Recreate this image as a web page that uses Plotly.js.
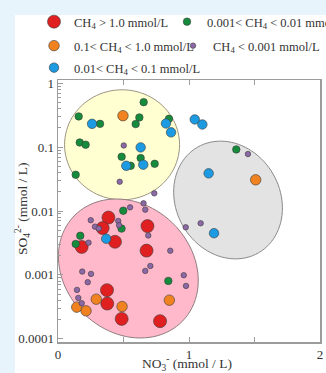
<!DOCTYPE html>
<html>
<head>
<meta charset="utf-8">
<script src="https://cdn.plot.ly/plotly-3.0.1.min.js"></script>
<style>
  html, body { margin: 0; padding: 0; background: #e8f4fb; }
  #chart { width: 326px; height: 373px; }
</style>
</head>
<body>
<div id="chart"></div>
<script>
// NO3- (mmol/L) and SO4 2- (mmol/L) for samples grouped by CH4 class
const redNO3 = [0.385, 0.341, 0.683, 0.435, 0.181, 0.676, 0.374, 0.376, 0.486, 0.779];
const redSO4 = [0.0079, 0.0054, 0.0058, 0.0033, 0.00274, 0.0024, 0.000577, 0.000356, 0.000205, 0.000189];

const orangeNO3 = [0.496, 1.509, 0.292, 0.143, 0.214, 0.489, 0.850];
const orangeSO4 = [0.31, 0.0308, 0.000417, 0.000313, 0.000274, 0.00032, 0.000402];

const blueNO3 = [0.260, 0.824, 0.863, 1.044, 1.102, 0.631, 0.521, 0.651, 1.150, 1.191, 0.368];
const blueSO4 = [0.231, 0.234, 0.170, 0.271, 0.226, 0.099, 0.051, 0.053, 0.0388, 0.00449, 0.00368];

const greenNO3 = [0.654, 0.158, 0.321, 0.621, 0.593, 0.847, 0.166, 0.211, 0.486, 0.631,
                  0.555, 0.738, 0.135, 1.361, 0.498, 0.485, 0.170, 0.135, 0.842];
const greenSO4 = [0.505, 0.302, 0.231, 0.291, 0.229, 0.277, 0.118, 0.109, 0.0706, 0.0673,
                  0.051, 0.0548, 0.0369, 0.092, 0.0101, 0.0053, 0.0041, 0.00305, 0.000806];

const purpleNO3 = [0.502, 0.471, 0.735, 1.450, 0.975, 1.089, 0.653, 0.666, 0.550, 0.250,
                   0.282, 0.311, 0.460, 0.466, 0.689, 0.233, 0.857, 0.705, 0.666, 0.185,
                   0.252, 0.227, 0.960, 0.977, 0.145, 0.155, 0.181];
const purpleSO4 = [0.106, 0.0287, 0.0189, 0.0778, 0.00556, 0.00643, 0.0132, 0.0105, 0.0114, 0.00718,
                   0.00569, 0.00533, 0.00698, 0.00598, 0.00414, 0.00319, 0.00239, 0.00138, 0.001155, 0.001127,
                   0.001037, 0.000769, 0.000989, 0.000673, 0.000583, 0.000437, 0.000361];

const seriesNames = [
  'CH<sub>4</sub> &gt; 1.0 mmol/L',
  '0.1&lt; CH<sub>4</sub> &lt; 1.0 mmol/L',
  '0.01&lt; CH<sub>4</sub> &lt; 0.1 mmol/L',
  '0.001&lt; CH<sub>4</sub> &lt; 0.01 mmol/L',
  'CH<sub>4</sub> &lt; 0.001 mmol/L'
];

const xTickVals = [0, 0.5, 1, 1.5, 2];
const xTickText = ['0', '', '1', '', '2'];
const yTickVals = [0.0001, 0.001, 0.01, 0.1, 1];
const yTickText = ['0.0001', '0.001', '0.01', '0.1', '1'];

// plot geometry
const W = 326, H = 373;
const M = { l: 58, r: 6, t: 80, b: 31, autoexpand: false };
const PW = W - M.l - M.r, PH = H - M.t - M.b;
const xRange = [0, 2];
const yRange = [-4.05, 0.05];
const toPaperY = py => (H - M.b - py) / PH;
const toPaperX = px => (px - M.l) / PW;

// minor ticks on the log axis (2..9 within each decade)
const minorVals = [];
for (let p = -4; p < 0; p++) for (let k = 2; k <= 9; k++) minorVals.push(k * Math.pow(10, p));

// grouping ellipses: centre in data units, semi-axes in pixels, tilt in degrees
const groups = [
  { cx: 0.489, cy: 0.1087, a: 55, b: 57.5, tilt: 0, fill: '#ffffd2', line: '#9c9482' },
  { cx: 0.537, cy: 0.00126, a: 75.5, b: 63.4, tilt: 46, fill: '#ffb9ca', line: '#8f7d80' },
  { cx: 1.298, cy: 0.01486, a: 61, b: 52, tilt: 30, fill: '#e3e3e3', line: '#8a8a8a' }
];

function ellipsePath(g) {
  const cx = (g.cx - xRange[0]) / (xRange[1] - xRange[0]) * PW;
  const cy = (Math.log10(g.cy) - yRange[0]) / (yRange[1] - yRange[0]) * PH;
  const th = g.tilt * Math.PI / 180;
  const ux = Math.sin(th), uy = -Math.cos(th);
  const vx = Math.cos(th), vy = Math.sin(th);
  let d = '';
  const n = 96;
  for (let i = 0; i <= n; i++) {
    const t = 2 * Math.PI * i / n;
    const px = cx + g.a * Math.cos(t) * ux + g.b * Math.sin(t) * vx;
    const py = cy + g.a * Math.cos(t) * uy + g.b * Math.sin(t) * vy;
    d += (i === 0 ? 'M ' : ' L ') + (px / PW).toFixed(5) + ' ' + (py / PH).toFixed(5);
  }
  return d + ' Z';
}

const shapes = [
  // white page panel
  { type: 'rect', xref: 'paper', yref: 'paper', layer: 'below',
    x0: toPaperX(15), x1: toPaperX(W + 10),
    y0: toPaperY(H + 10), y1: toPaperY(15),
    fillcolor: '#ffffff', line: { width: 0 } }
].concat(groups.map(g => ({
  type: 'path', xref: 'paper', yref: 'paper', layer: 'below',
  path: ellipsePath(g), fillcolor: g.fill, line: { color: g.line, width: 1 }
})));

const edge = { color: '#3a3a3a', width: 0.6 };
function series(x, y, name, color, size, legendId) {
  return {
    type: 'scatter', mode: 'markers', x: x, y: y, name: name, legend: legendId,
    marker: { color: color, size: size, line: edge }, cliponaxis: false
  };
}

const traces = [
  series(redNO3, redSO4, seriesNames[0], '#e02020', 13, 'legend'),
  series(greenNO3, greenSO4, seriesNames[3], '#148c3c', 7.5, 'legend2'),
  series(orangeNO3, orangeSO4, seriesNames[1], '#f08220', 10.5, 'legend3'),
  series(purpleNO3, purpleSO4, seriesNames[4], '#8c68a6', 5.5, 'legend4'),
  series(blueNO3, blueSO4, seriesNames[2], '#1c9be2', 9.5, 'legend5')
];

const serif = 'Liberation Serif, Times New Roman, serif';
const axisCommon = {
  showline: true, linecolor: '#9c9c9c', linewidth: 1.5,
  ticks: 'inside', ticklen: 5, tickwidth: 1, tickcolor: '#9c9c9c',
  showgrid: false, zeroline: false, fixedrange: true,
  tickfont: { family: serif, size: 13, color: '#333' }
};

// one legend box per key, laid out as a two-column grid
function legendKey(px, py) {
  return {
    orientation: 'v', x: toPaperX(px), xanchor: 'left', y: toPaperY(py), yanchor: 'middle',
    font: { family: serif, size: 12.5, color: '#333' },
    bgcolor: 'rgba(0,0,0,0)'
  };
}

const layout = {
  width: W, height: H,
  margin: M,
  paper_bgcolor: '#e8f4fb',
  plot_bgcolor: 'rgba(0,0,0,0)',
  font: { family: serif, color: '#333' },
  showlegend: true,
  legend: legendKey(34, 22),
  legend2: legendKey(167, 22),
  legend3: legendKey(34, 46),
  legend4: legendKey(173, 46),
  legend5: legendKey(34, 68),
  xaxis: Object.assign({}, axisCommon, {
    range: xRange, tickmode: 'array', tickvals: xTickVals, ticktext: xTickText, mirror: 'ticks'
  }),
  yaxis: Object.assign({}, axisCommon, {
    type: 'log', range: yRange, tickmode: 'array', tickvals: yTickVals, ticktext: yTickText, mirror: true,
    minor: { tickmode: 'array', tickvals: minorVals, ticks: 'inside', ticklen: 3, tickcolor: '#9c9c9c' }
  }),
  // right-hand major ticks only
  yaxis2: {
    overlaying: 'y', side: 'right', type: 'log', range: yRange, tickmode: 'array', tickvals: yTickVals,
    showticklabels: false, ticks: 'inside', ticklen: 5, tickcolor: '#9c9c9c',
    showline: false, showgrid: false, zeroline: false, fixedrange: true
  },
  annotations: [{
    xref: 'paper', yref: 'paper', x: toPaperX(22), y: toPaperY(209), xanchor: 'center', yanchor: 'middle',
    textangle: -90, showarrow: false,
    text: 'SO<sub>4</sub><sup>2-</sup> (mmol / L)',
    font: { family: serif, size: 13.5, color: '#333' }
  }, {
    xref: 'paper', yref: 'paper', x: toPaperX(187), y: toPaperY(363), xanchor: 'center', yanchor: 'middle',
    showarrow: false,
    text: 'NO<sub>3</sub><sup>-</sup> (mmol / L)',
    font: { family: serif, size: 13.5, color: '#333' }
  }],
  shapes: shapes
};

Plotly.newPlot('chart', traces, layout, { displayModeBar: false, staticPlot: true });
</script>
</body>
</html>
